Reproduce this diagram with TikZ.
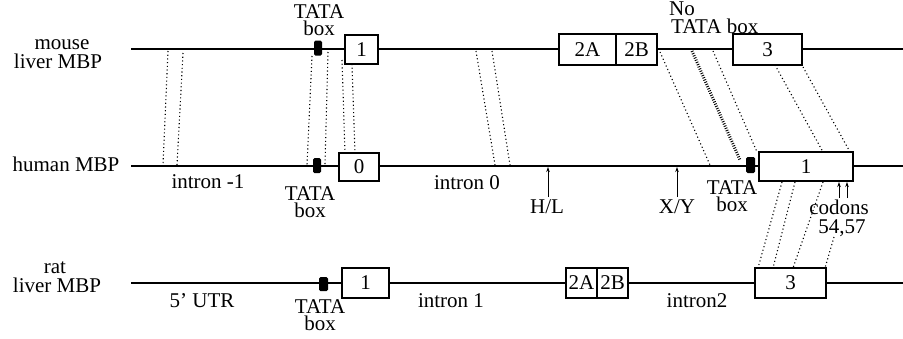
\documentclass[tikz,border=0pt]{standalone}
\usepackage{fontspec}
\setmainfont{Liberation Serif}
\usetikzlibrary{arrows.meta}
\begin{document}
\begin{tikzpicture}[x=1pt,y=-1pt,
  every node/.style={font=\fontsize{21}{16}\selectfont, inner sep=0pt},
  txt/.style={anchor=base},
  stack/.style={align=center, anchor=base, font=\fontsize{21}{17}\selectfont},
  exon/.style={draw, line width=1.3pt, fill=white, inner sep=0pt},
  tata/.style={fill=black, rounded corners=1.5pt, inner sep=0pt},
  gene/.style={line width=1.5pt},
  homol/.style={line width=1.1pt, dash pattern=on 1.1pt off 2.6pt},
  dense/.style={line width=3pt, dash pattern=on 0.9pt off 1.5pt},
  pointer/.style={line width=0.8pt, -{Stealth[length=5pt,width=3.5pt]}},
]
\useasboundingbox (0,0) rectangle (903,338);

% gene lines
\coordinate (ms) at (131,49);  \coordinate (me) at (903,49);
\coordinate (hs) at (131,166); \coordinate (he) at (903,166);
\coordinate (rs) at (131,283); \coordinate (re) at (903,283);
\draw[gene] (ms) -- (me);
\draw[gene] (hs) -- (he);
\draw[gene] (rs) -- (re);

% mouse
\node[tata, minimum width=8pt, minimum height=15pt] (mT) at (318,48) {};
\node[exon, minimum width=33pt, minimum height=29pt] (m1) at (361.5,49.5) {1};
\node[exon, minimum width=57pt, minimum height=31pt] (m2A) at (587.5,49.5) {2A};
\node[exon, minimum width=41pt, minimum height=31pt] (m2B) at (636.5,49.5) {2B};
\node[exon, minimum width=69pt, minimum height=31pt] (m3) at (767.5,49.5) {3};

% human
\node[tata, minimum width=8pt, minimum height=15pt] (hT1) at (317,165.5) {};
\node[exon, minimum width=40pt, minimum height=28pt] (h0) at (359,167) {0};
\node[tata, minimum width=9pt, minimum height=16pt] (hT2) at (750.5,165) {};
\node[exon, minimum width=94pt, minimum height=29pt] (h1) at (806,166.5) {1};

% rat
\node[tata, minimum width=9pt, minimum height=14pt] (rT) at (323.5,284) {};
\node[exon, minimum width=47pt, minimum height=30pt] (r1) at (365.5,283) {1};
\node[exon, minimum width=31pt, minimum height=30pt] (r2A) at (581.5,283) {2A};
\node[exon, minimum width=31pt, minimum height=30pt] (r2B) at (612.5,283) {2B};
\node[exon, minimum width=71pt, minimum height=30pt] (r3) at (790.5,283) {3};

% species labels
\node[txt] (lm1) at (62,49) {mouse};
\node[txt] (lm2) at (58,68) {liver MBP};
\node[txt] (lh) at (66,171) {human MBP};
\node[txt] (lr1) at (55,273) {rat};
\node[txt] (lr2) at (57,292) {liver MBP};

% mouse texts
\node[stack] (mt) at (319,35) {TATA\\box};
\node[txt, anchor=base west] (nt1) at (669,15) {No};
\node[txt, anchor=base west] (nt2) at (671,33) {TATA box};

% human texts
\node[txt] (i-1) at (208,188) {intron -1};
\node[stack] (ht) at (310,217) {TATA\\box};
\node[txt] (i0) at (467,189) {intron 0};
\node[txt] (HL) at (547,213) {H/L};
\node[txt] (XY) at (677,213) {X/Y};
\node[stack] (htr) at (732,211) {TATA\\box};
\node[txt] (cod) at (839,214) {codons};
\node[txt] (cnum) at (842,233) {54,57};

% rat texts
\node[txt] (utr) at (202,307) {5' UTR};
\node[stack] (rt) at (320,330) {TATA\\box};
\node[txt] (i1) at (451,307) {intron 1};
\node[txt] (i2) at (697,307) {intron2};

% pointers
\coordinate (hlb) at (548,197); \coordinate (hlt) at (548,167);
\coordinate (xyb) at (677,197); \coordinate (xyt) at (677,167);
\coordinate (c1b) at (839,198); \coordinate (c1t) at (839,182);
\coordinate (c2b) at (847,198); \coordinate (c2t) at (847,182);
\draw[pointer] (hlb) -- (hlt);
\draw[pointer] (xyb) -- (xyt);
\draw[pointer] (c1b) -- (c1t);
\draw[pointer] (c2b) -- (c2t);

% homology lines mouse -> human
\coordinate (a1) at (168,51);  \coordinate (b1) at (163,165);
\coordinate (a2) at (183,53);  \coordinate (b2) at (177,165);
\coordinate (a3) at (312,56);  \coordinate (b3) at (307,165);
\coordinate (a4) at (328,52);  \coordinate (b4) at (325,165);
\coordinate (a5) at (342,60);  \coordinate (b5) at (345,153);
\coordinate (a6) at (352,64);  \coordinate (b6) at (355,153);
\coordinate (a7) at (476,51);  \coordinate (b7) at (495,165);
\coordinate (a8) at (492,51);  \coordinate (b8) at (510,165);
\coordinate (a9) at (660,52);  \coordinate (b9) at (710,165);
\coordinate (a10) at (692,51); \coordinate (b10) at (740,160);
\coordinate (a11) at (713,51); \coordinate (b11) at (757,152);
\coordinate (a12) at (775,65); \coordinate (b12) at (823,152);
\coordinate (a13) at (803,67); \coordinate (b13) at (850,152);
\foreach \i in {1,...,9,11,12,13} {\draw[homol] (a\i) -- (b\i);}
\draw[dense] (a10) -- (b10);

% homology lines human -> rat
\coordinate (c14) at (782,182); \coordinate (d14) at (758,268);
\coordinate (c15) at (795,182); \coordinate (d15) at (773,268);
\coordinate (c16) at (823,182); \coordinate (d16) at (793,268);
\coordinate (c17) at (834,237); \coordinate (d17) at (825,268);
\foreach \i in {14,...,17} {\draw[homol] (c\i) -- (d\i);}
\end{tikzpicture}
\end{document}
